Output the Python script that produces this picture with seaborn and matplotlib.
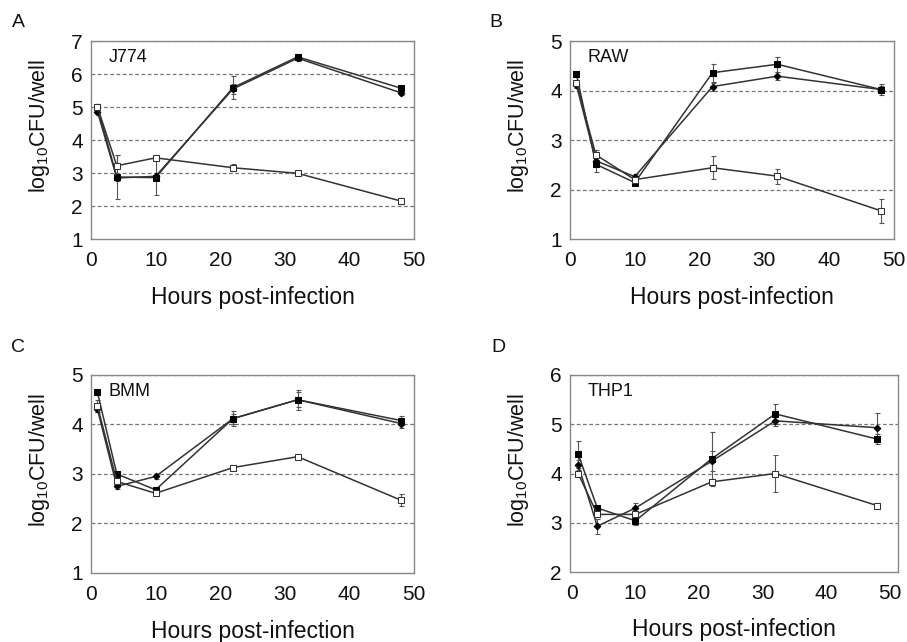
import numpy as np
import pandas as pd
import matplotlib
matplotlib.use("Agg")
import matplotlib.pyplot as plt
import seaborn as sns

# time points (hours post-infection)
hours = [1, 4, 10, 22, 32, 48]

# series: filled squares, filled diamonds, open squares
panels = ["A", "B", "C", "D"]
cell_lines = ["J774", "RAW", "BMM", "THP1"]

a_sq = [5.00, 2.88, 2.86, 5.59, 6.52, 5.57]
a_sq_err = [0.08, 0.66, 0.53, 0.35, 0.10, 0.08]
a_di = [4.86, 2.85, 2.90, 5.55, 6.48, 5.43]
a_di_err = [0.05, 0.10, 0.10, 0.15, 0.08, 0.08]
a_op = [5.00, 3.22, 3.46, 3.16, 2.99, 2.15]
a_op_err = [0.08, 0.33, 0.10, 0.10, 0.05, 0.08]

b_sq = [4.33, 2.51, 2.14, 4.36, 4.53, 4.02]
b_sq_err = [0.05, 0.15, 0.05, 0.18, 0.15, 0.12]
b_di = [4.11, 2.58, 2.26, 4.08, 4.29, 4.02]
b_di_err = [0.05, 0.10, 0.05, 0.08, 0.08, 0.08]
b_op = [4.15, 2.70, 2.20, 2.44, 2.27, 1.57]
b_op_err = [0.05, 0.10, 0.08, 0.23, 0.15, 0.24]

c_sq = [4.65, 3.00, 2.68, 4.12, 4.50, 4.08]
c_sq_err = [0.05, 0.05, 0.05, 0.15, 0.20, 0.10]
c_di = [4.31, 2.75, 2.95, 4.12, 4.50, 4.02]
c_di_err = [0.05, 0.05, 0.05, 0.10, 0.15, 0.10]
c_op = [4.38, 2.85, 2.61, 3.13, 3.35, 2.47]
c_op_err = [0.12, 0.05, 0.05, 0.05, 0.05, 0.12]

d_sq = [4.39, 3.30, 3.04, 4.30, 5.21, 4.70]
d_sq_err = [0.28, 0.05, 0.08, 0.55, 0.20, 0.10]
d_di = [4.17, 2.93, 3.30, 4.25, 5.07, 4.93]
d_di_err = [0.10, 0.15, 0.10, 0.20, 0.10, 0.30]
d_op = [4.00, 3.17, 3.17, 3.83, 4.00, 3.35]
d_op_err = [0.05, 0.05, 0.05, 0.05, 0.38, 0.05]

y_ranges = [(1, 7), (1, 5), (1, 5), (2, 6)]

series = [
    [(a_sq, a_sq_err), (a_di, a_di_err), (a_op, a_op_err)],
    [(b_sq, b_sq_err), (b_di, b_di_err), (b_op, b_op_err)],
    [(c_sq, c_sq_err), (c_di, c_di_err), (c_op, c_op_err)],
    [(d_sq, d_sq_err), (d_di, d_di_err), (d_op, d_op_err)],
]

sns.set_theme(style="white")
plt.rcParams['font.family'] = ['Liberation Sans', 'DejaVu Sans']
plt.rcParams['mathtext.fontset'] = 'custom'
plt.rcParams['mathtext.rm'] = 'Liberation Sans'

fig = plt.figure(figsize=(9.07, 6.42), dpi=100)

# axes boxes in figure fractions
boxes = [
    [0.1003, 0.6277, 0.3561, 0.3084],
    [0.6284, 0.6277, 0.3572, 0.3084],
    [0.1003, 0.1075, 0.3561, 0.3084],
    [0.6284, 0.1090, 0.3616, 0.3069],
]
xlims = [(0, 50), (0, 50), (0, 50), (-0.3, 51.3)]
letter_pos = [(0.020, 0.965), (0.547, 0.965), (0.020, 0.458), (0.549, 0.458)]

styles = [
    dict(marker="s", ms=4.6, mfc="black", mec="black"),
    dict(marker="D", ms=3.4, mfc="black", mec="black"),
    dict(marker="s", ms=4.6, mfc="white", mec="#333333"),
]
labels = ["sq", "di", "op"]

for i, ax_box in enumerate(boxes):
    ax = fig.add_axes(ax_box)
    lo, hi = y_ranges[i]
    ax.set_xlim(*xlims[i])
    ax.set_ylim(lo, hi)
    # dashed horizontal guides
    for yv in range(lo + 1, hi + 1):
        ax.axhline(yv, color="#777777", ls=(0, (3, 2)), lw=0.9, zorder=0)

    rows = []
    for k, (vals, errs) in enumerate(series[i]):
        for h, v in zip(hours, vals):
            rows.append({"Hours": h, "CFU": v, "strain": labels[k]})
    df = pd.DataFrame(rows)

    for k, (vals, errs) in enumerate(series[i]):
        ax.errorbar(hours, vals, yerr=errs, fmt="none", ecolor="#555555",
                    elinewidth=0.8, capsize=1.8, capthick=0.8, zorder=2)
        sub = df[df["strain"] == labels[k]]
        sns.lineplot(data=sub, x="Hours", y="CFU", ax=ax, color="#333333",
                     lw=1.1, zorder=3 + k, legend=False, **styles[k])

    ax.set_xticks([0, 10, 20, 30, 40, 50])
    ax.set_yticks(list(range(lo, hi + 1)))
    ax.tick_params(axis="both", labelsize=15, length=2.5, width=0.8,
                   colors="#aaaaaa", labelcolor="#111111", direction="in")
    ax.tick_params(axis="x", pad=8.5)
    ax.tick_params(axis="y", pad=6)
    for sp in ax.spines.values():
        sp.set_color("#888888")
        sp.set_linewidth(1.0)
    ax.set_xlabel("Hours post-infection", fontsize=16.5, color="#111111")
    ax.set_ylabel(r"log$_{10}$CFU/well", fontsize=15.5, color="#111111")
    ax.xaxis.set_label_coords(0.5, -0.235)
    ax.yaxis.set_label_coords(-0.12, 0.57)
    ax.text(0.055, 0.915, cell_lines[i], transform=ax.transAxes, fontsize=13,
            va="center", ha="left", color="#111111")
    fig.text(letter_pos[i][0], letter_pos[i][1], panels[i], fontsize=14,
             va="center", ha="center", color="#111111")

fig.savefig("out.png", dpi=100)
